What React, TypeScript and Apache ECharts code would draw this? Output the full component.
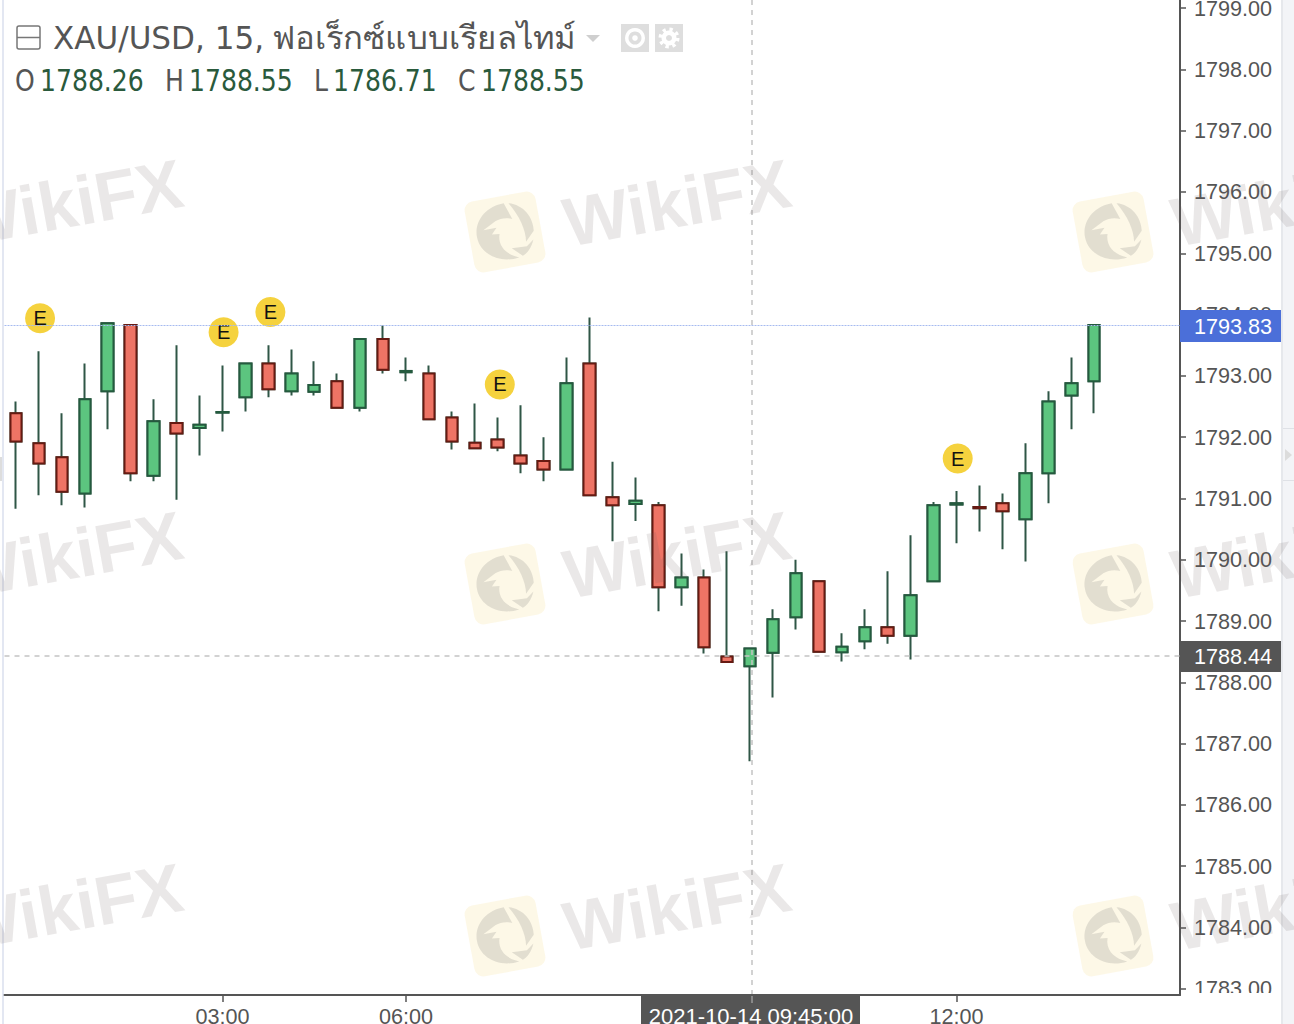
import React, { useEffect, useRef } from "react";
import * as echarts from "echarts";

const opens = [1792.39,1791.90,1791.67,1791.08,1792.75,1793.83,1791.37,1792.23,1792.15,1792.40,1792.65,1793.20,1792.75,1792.74,1792.91,1792.48,1793.60,1793.06,1793.04,1792.32,1791.91,1791.96,1791.70,1791.61,1791.47,1793.20,1791.02,1790.91,1790.89,1789.55,1789.71,1788.42,1788.26,1788.48,1789.06,1789.65,1788.49,1788.67,1788.90,1788.76,1789.65,1790.90,1790.86,1790.92,1790.66,1791.41,1792.68,1792.91];
const closes = [1791.93,1791.57,1791.11,1792.62,1793.86,1791.41,1792.26,1792.06,1792.20,1792.41,1793.20,1792.78,1793.04,1792.85,1792.48,1793.60,1793.10,1793.08,1792.29,1791.93,1791.82,1791.83,1791.57,1791.47,1792.88,1791.05,1790.89,1790.96,1789.55,1789.71,1788.57,1788.33,1788.55,1789.03,1789.78,1788.50,1788.58,1788.90,1788.76,1789.42,1790.89,1790.92,1790.84,1790.79,1791.41,1792.58,1792.88,1793.83];
const lows = [1790.83,1791.05,1790.89,1790.85,1792.13,1791.28,1791.28,1790.98,1791.70,1792.09,1792.42,1792.65,1792.68,1792.68,1792.48,1792.42,1793.04,1792.91,1792.29,1791.80,1791.82,1791.77,1791.41,1791.28,1791.47,1791.05,1790.30,1790.63,1789.16,1789.25,1788.47,1788.33,1786.71,1787.75,1788.86,1788.50,1788.34,1788.54,1788.63,1788.37,1789.65,1790.27,1790.46,1790.17,1789.97,1790.92,1792.13,1792.39];
const highs = [1792.58,1793.40,1792.39,1793.20,1793.86,1793.83,1792.62,1793.50,1792.68,1793.17,1793.20,1793.50,1793.43,1793.24,1793.04,1793.60,1793.82,1793.30,1793.17,1792.42,1792.55,1792.32,1792.52,1792.00,1793.30,1793.95,1791.60,1791.34,1790.94,1790.10,1789.84,1790.14,1788.55,1789.19,1790.00,1789.65,1788.80,1789.19,1789.81,1790.40,1790.94,1791.12,1791.21,1791.08,1791.90,1792.75,1793.30,1793.83];

const xTickIndex = [9, 17, 41];
const xTickLabels = ["03:00", "06:00", "12:00"];
const yTicks = [1783,1784,1785,1786,1787,1788,1789,1790,1791,1792,1793,1794,1795,1796,1797,1798,1799];
const eventIndex = [1.05, 9.05, 11.09, 21.09, 41.05];
const eventPrice = [1793.94, 1793.71, 1794.04, 1792.86, 1791.65];
const crosshairIndex = 32.09;
const crosshairPrice = 1788.44;
const lastPrice = 1793.83;

const TITLE_LATIN = "XAU/USD, 15,";
const TITLE_THAI = "ฟอเร็กซ์แบบเรียลไทม์";
const OHLC = [
  { k: "O", v: "1788.26", kx: 15, vx: 40 },
  { k: "H", v: "1788.55", kx: 165, vx: 189 },
  { k: "L", v: "1786.71", kx: 314, vx: 333 },
  { k: "C", v: "1788.55", kx: 458, vx: 481 },
];

const GREEN = "#5CC57F", GREEN_B = "#245A3E", RED = "#EE7465", RED_B = "#671A12", WICK = "#2F5646", AXIS = "#555555";
const SANS = '"Liberation Sans", Arial, sans-serif';

echarts.graphic.registerShape(
  "eagle",
  echarts.graphic.extendPath(
    "M-30,0 C-30,-17 -15,-30 4,-30 L10,-12 C4,-15 -2,-15 -8,-13 L-22,-6 L-8,-6 L-14,0 L-6,1 C-10,12 -4,22 6,27 L10,29 C-12,32 -30,18 -30,0 Z M9,-29 C24,-25 32,-10 30,4 L20,14 C22,2 18,-14 9,-29 Z M28,13 C24,22 19,26 14,28 L4,18 L20,19 Z",
    {}
  )
);

function watermark(cx: number, cy: number) {
  const rot = 0.18;
  return [
    {
      type: "text", x: cx + 53, y: cy - 42, rotation: rot, silent: true, z: 20,
      style: { text: "WikiFX", font: `bold 69px ${SANS}`, fill: "rgba(105,95,95,0.14)", textAlign: "left" },
    },
    {
      type: "group", x: cx, y: cy, rotation: rot, silent: true, z: 20,
      children: [
        { type: "rect", shape: { x: -36, y: -36, width: 72, height: 72, r: 9 }, style: { fill: "rgba(250,232,175,0.3)" }, z: 20 },
        { type: "eagle", x: 0, y: 0, scaleX: 0.95, scaleY: 0.95, style: { fill: "rgba(120,118,122,0.2)" }, z: 21 },
      ],
    },
  ];
}

export default function App() {
  const ref = useRef<HTMLDivElement>(null);
  useEffect(() => {
    document.body.style.margin = "0";
    const chart = echarts.init(ref.current!, undefined, { renderer: "svg" });
    const wm: any[] = [];
    for (const cx of [-103, 505, 1113]) for (const cy of [232, 584, 936]) wm.push(...watermark(cx, cy));

    const fullData = opens.map((o, i) => [i, o, closes[i], lows[i], highs[i]]);
    const bodyData = opens.map((o, i) => [i, o, closes[i], Math.min(o, closes[i]), Math.max(o, closes[i])]);

    const txt = (text: string, x: number, y: number, fill: string, font: string, align = "left", extra: any = {}) => ({
      type: "text", x, y, z: 12, silent: true,
      style: { text, fill, font, textAlign: align, textVerticalAlign: "middle" },
      ...extra,
    });

    const headFont = '32px "DejaVu Sans", sans-serif';
    const ohlcFont = '31px "DejaVu Sans", sans-serif';
    const graphic: any[] = [
      // page chrome
      { type: "rect", shape: { x: 2, y: 0, width: 2, height: 1024 }, style: { fill: "#E3E7F2" }, z: 3, silent: true },
      { type: "rect", shape: { x: 0, y: 457, width: 2, height: 24 }, style: { fill: "#DDDDDD" }, z: 3, silent: true },
      // hide the clipped bottom of the 1783 label
      { type: "rect", shape: { x: 1182, y: 993, width: 112, height: 31 }, style: { fill: "#FFFFFF" }, z: 1, silent: true },
      { type: "rect", shape: { x: 1281, y: 0, width: 13, height: 1024 }, style: { fill: "#F3F4F7" }, z: 3, silent: true },
      { type: "rect", shape: { x: 1281, y: 0, width: 2, height: 1024 }, style: { fill: "#E6E8EC" }, z: 3, silent: true },
      { type: "rect", shape: { x: 1283, y: 428, width: 11, height: 1 }, style: { fill: "#DFE1E6" }, z: 3, silent: true },
      { type: "rect", shape: { x: 1283, y: 480, width: 11, height: 1 }, style: { fill: "#DFE1E6" }, z: 3, silent: true },
      { type: "polygon", shape: { points: [[1285, 449], [1292, 455], [1285, 461]] }, style: { fill: "#DCDCDC" }, z: 3, silent: true },
      // price tags
      { type: "rect", shape: { x: 1180, y: 310, width: 101, height: 32 }, style: { fill: "#4B6FD9" }, z: 5, silent: true },
      txt(lastPrice.toFixed(2), 1233, 326, "#FFFFFF", `21.6px ${SANS}`, "center"),
      { type: "rect", shape: { x: 1180, y: 641, width: 101, height: 31 }, style: { fill: "#555555" }, z: 5, silent: true },
      txt(crosshairPrice.toFixed(2), 1233, 656, "#FFFFFF", `21.6px ${SANS}`, "center"),
      // crosshair date tag
      { type: "rect", shape: { x: 641, y: 996, width: 219, height: 28 }, style: { fill: "#555555" }, z: 11, silent: true },
      { type: "line", shape: { x1: 752, y1: 996, x2: 752, y2: 1003 }, style: { stroke: "#BBBBBB", lineWidth: 1 }, z: 12, silent: true },
      txt("2021-10-14 09:45:00", 751, 1016, "#FFFFFF", `22px ${SANS}`, "center"),
      // header
      { type: "rect", shape: { x: 17, y: 26, width: 23, height: 23, r: 2 }, style: { fill: "none", stroke: "#777777", lineWidth: 1.5 }, z: 12, silent: true },
      { type: "line", shape: { x1: 17, y1: 37.5, x2: 40, y2: 37.5 }, style: { stroke: "#777777", lineWidth: 1.5 }, z: 12, silent: true },
      txt(TITLE_LATIN, 53, 38, "#555555", headFont, "left", { scaleX: 0.97 }),
      txt(TITLE_THAI, 272, 38, "#555555", headFont, "left", { scaleX: 1.025 }),
      { type: "polygon", shape: { points: [[586, 35], [600, 35], [593, 42]] }, style: { fill: "#CFCFCF" }, z: 12, silent: true },
      { type: "rect", shape: { x: 621, y: 24, width: 28, height: 28 }, style: { fill: "#DEDEDE" }, z: 12, silent: true },
      { type: "ring", shape: { cx: 635, cy: 38, r: 10, r0: 6.5 }, style: { fill: "#FFFFFF" }, z: 13, silent: true },
      { type: "circle", shape: { cx: 635, cy: 38, r: 2.8 }, style: { fill: "#FFFFFF" }, z: 13, silent: true },
      { type: "rect", shape: { x: 655, y: 24, width: 28, height: 28 }, style: { fill: "#DEDEDE" }, z: 12, silent: true },
      { type: "circle", shape: { cx: 669, cy: 38, r: 8 }, style: { fill: "none", stroke: "#FFFFFF", lineWidth: 5, lineDash: [3, 3.28] }, z: 13, silent: true },
      { type: "ring", shape: { cx: 669, cy: 38, r: 7.5, r0: 3 }, style: { fill: "#FFFFFF" }, z: 13, silent: true },
      ...OHLC.flatMap((d) => [
        txt(d.k, d.kx, 81, "#555555", ohlcFont, "left", { scaleX: 0.81 }),
        txt(d.v, d.vx, 81, "#2A5A3C", ohlcFont, "left", { scaleX: 0.81 }),
      ]),
      ...wm,
    ];

    chart.setOption({
      animation: false,
      backgroundColor: "#FFFFFF",
      grid: { left: 4.5, right: 114, top: 0, bottom: 29, outerBoundsMode: "none" },
      xAxis: {
        type: "value", min: -0.5, max: 50.74, z: 10,
        axisLine: { onZero: false, lineStyle: { color: AXIS, width: 2 } },
        axisTick: { show: true, length: 7, customValues: xTickIndex, lineStyle: { color: AXIS, width: 1.5 } },
        axisLabel: {
          customValues: xTickIndex, margin: 10, fontSize: 21.6, color: AXIS, fontFamily: SANS,
          formatter: (v: number) => xTickLabels[xTickIndex.indexOf(v)] ?? "",
        },
        splitLine: { show: false },
      },
      yAxis: {
        type: "value", position: "right", min: 1782.898, max: 1799.132, z: 0, scale: true,
        axisLine: { show: true, onZero: false, lineStyle: { color: AXIS, width: 2 } },
        axisTick: { show: true, length: 6, customValues: yTicks, lineStyle: { color: AXIS, width: 1.5 } },
        axisLabel: {
          customValues: yTicks, margin: 14, fontSize: 21.6, color: AXIS, fontFamily: SANS,
          formatter: (v: number) => v.toFixed(2),
        },
        splitLine: { show: false },
      },
      series: [
        {
          name: "wicks", type: "candlestick", barWidth: 12, z: 2, clip: false,
          encode: { x: 0, y: [1, 2, 3, 4] },
          itemStyle: { color: GREEN, color0: RED, borderColor: WICK, borderColor0: WICK, borderWidth: 2 },
          data: fullData,
          markLine: {
            symbol: "none", silent: true, animation: false, label: { show: false },
            data: [
              { yAxis: lastPrice, lineStyle: { color: "#A6BBF0", type: [2, 1], width: 1, opacity: 1 } },
              { yAxis: crosshairPrice, lineStyle: { color: "#C4C4C4", type: [5, 5], width: 1.5, opacity: 1 } },
              { xAxis: crosshairIndex, lineStyle: { color: "#C4C4C4", type: [5, 5], width: 1.5, opacity: 1 } },
            ],
          },
        },
        {
          name: "bodies", type: "candlestick", barWidth: 12, z: 3, clip: false,
          encode: { x: 0, y: [1, 2, 3, 4] },
          itemStyle: { color: GREEN, color0: RED, borderColor: GREEN_B, borderColor0: RED_B, borderWidth: 2 },
          data: bodyData,
        },
        {
          name: "events", type: "scatter", symbol: "circle", symbolSize: 30, z: 4, clip: false,
          encode: { x: 0, y: 1 },
          itemStyle: { color: "#F5D23E", opacity: 1 },
          label: { show: true, position: "inside", formatter: "E", color: "#111111", fontSize: 20, fontFamily: SANS },
          data: eventIndex.map((x, i) => [x, eventPrice[i]]),
        },
      ],
      graphic,
    });
    return () => chart.dispose();
  }, []);
  return <div ref={ref} style={{ position: "absolute", left: 0, top: 0, width: 1294, height: 1024, overflow: "hidden" }} />;
}
